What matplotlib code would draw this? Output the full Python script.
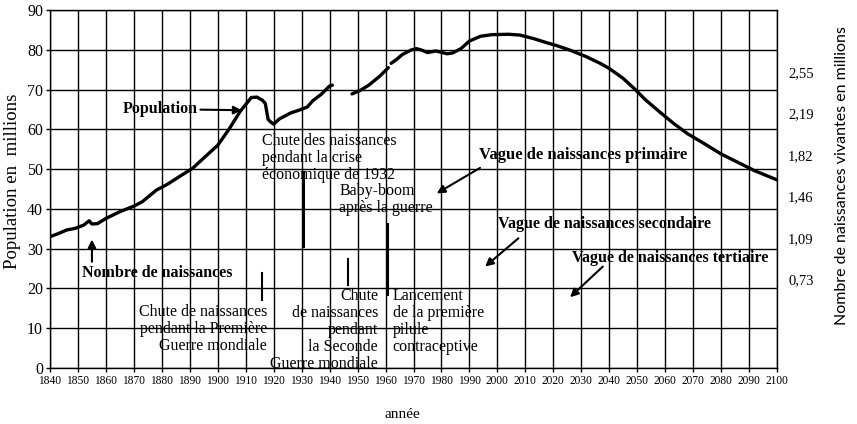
import numpy as np
import matplotlib
matplotlib.use("Agg")
import matplotlib.pyplot as plt

# population of Germany in millions (nan = gap in the curve)
years = [1840, 1843, 1846, 1849, 1852, 1854, 1855, 1857, 1860, 1865, 1870, 1873,
         1878, 1882, 1886, 1891, 1895, 1900, 1904, 1908, 1912, 1914, 1916, 1917,
         1918, 1919, 1920, 1922, 1926, 1929, 1932, 1934, 1937, 1940, 1941,
         1944,
         1948, 1951, 1954, 1958, 1961,
         1961.5,
         1962, 1964, 1966, 1969, 1971, 1973, 1975, 1978, 1982, 1984, 1987, 1990,
         1994, 1998, 2004, 2008, 2013, 2018, 2021, 2026, 2032, 2037, 2040, 2045,
         2049, 2053, 2058, 2063, 2068, 2074, 2080, 2086, 2092, 2100]
population = [33.0, 33.8, 34.7, 35.1, 35.9, 37.0, 36.2, 36.3, 37.6, 39.3, 40.7, 41.8,
              44.7, 46.2, 48.0, 50.2, 52.8, 56.0, 60.0, 64.5, 68.0, 68.1, 67.3, 66.5,
              62.5, 61.8, 61.3, 62.6, 64.1, 64.8, 65.6, 67.2, 68.8, 70.9, 71.1,
              np.nan,
              68.9, 69.8, 71.1, 73.4, 75.5,
              np.nan,
              76.6, 77.6, 78.8, 79.9, 80.3, 79.9, 79.3, 79.7, 79.0, 79.2, 80.3, 82.2,
              83.4, 83.8, 83.9, 83.7, 82.8, 81.7, 81.1, 79.9, 78.2, 76.5, 75.3, 72.8,
              70.2, 67.4, 64.4, 61.5, 58.9, 56.4, 53.8, 51.7, 49.6, 47.3]

x_ticks = list(range(1840, 2101, 10))
y_ticks = list(range(0, 91, 10))

# right axis: live births in millions
births_ticks = [0.73, 1.09, 1.46, 1.82, 2.19, 2.55]
births_labels = ["0,73", "1,09", "1,46", "1,82", "2,19", "2,55"]
births_at_zero = -0.0556
births_at_top = 3.1007

SERIF = "Liberation Serif"
FS = 11.5

fig = plt.figure(figsize=(8.57, 4.24), dpi=100)
ax = fig.add_axes([50 / 857, 56 / 424, 727 / 857, 358 / 424])

ax.plot(years, population, color="black", lw=2.4, solid_capstyle="round")

ax.set_xlim(1840, 2100)
ax.set_ylim(0, 90)
ax.set_xticks(x_ticks)
ax.set_yticks(y_ticks)
ax.set_xticklabels([str(t) for t in x_ticks], fontfamily=SERIF, fontsize=8.3)
ax.set_yticklabels([str(t) for t in y_ticks], fontfamily=SERIF, fontsize=11.5)
ax.tick_params(axis="both", direction="out", length=3, width=1, pad=2, colors="black")
ax.grid(True, color="black", lw=1.0)
for sp in ax.spines.values():
    sp.set_linewidth(1.0)

ax2 = ax.twinx()
ax2.set_ylim(births_at_zero, births_at_top)
ax2.set_yticks(births_ticks)
ax2.set_yticklabels(births_labels, fontfamily=SERIF, fontsize=10.5)
ax2.tick_params(axis="y", length=0, pad=8)
for sp in ax2.spines.values():
    sp.set_visible(False)

fig.text(13 / 857, 1 - 181 / 424, "Population en  millions", rotation=90,
         ha="center", va="center", fontfamily=SERIF, fontsize=13.5)
fig.text(842 / 857, 1 - 176 / 424, "Nombre de naissances vivantes en millions",
         rotation=90, ha="center", va="center", fontfamily="Lato", fontsize=11.5)
fig.text(402 / 857, 1 - 414 / 424, "année", ha="center", va="center",
         fontfamily=SERIF, fontsize=11)

arrow = dict(arrowstyle="-|>", color="black", lw=1.5, mutation_scale=12,
             shrinkA=0, shrinkB=0)
bold = dict(fontfamily=SERIF, fontsize=FS, fontweight="bold")
plain = dict(fontfamily=SERIF, fontsize=FS, linespacing=1.07)

ax.annotate("Population", xy=(1908.6, 64.8), xytext=(1892.8, 65.1),
            ha="right", va="center", arrowprops=arrow, **bold)

ax.text(1878.4, 23.9, "Nombre de naissances", ha="center", va="center", **bold)
ax.annotate("", xy=(1855.0, 32.3), xytext=(1855.0, 26.7), arrowprops=arrow)

ax.text(1993.4, 53.5, "Vague de naissances primaire", ha="left", va="center",
        fontfamily=SERIF, fontsize=12, fontweight="bold")
ax.annotate("", xy=(1978.3, 43.9), xytext=(1993.8, 50.3), arrowprops=arrow)

ax.text(2000.2, 36.2, "Vague de naissances secondaire", ha="left", va="center", **bold)
ax.annotate("", xy=(1995.6, 25.5), xytext=(2007.5, 32.6), arrowprops=arrow)

ax.text(2026.6, 27.6, "Vague de naissances tertiaire", ha="left", va="center", **bold)
ax.annotate("", xy=(2026.0, 17.8), xytext=(2037.7, 25.5), arrowprops=arrow)

ax.text(1917.6, 16.1, "Chute de naissances\npendant la Première\nGuerre mondiale",
        ha="right", va="top", multialignment="right", **plain)
ax.text(1915.8, 59.0, "Chute des naissances\npendant la crise\néconomique de 1932",
        ha="left", va="top", **plain)
ax.text(1943.4, 46.5, "Baby-boom\naprès la guerre", ha="left", va="top", **plain)
ax.text(1957.3, 20.0, "Chute\nde naissances\npendant\nla Seconde\nGuerre mondiale",
        ha="right", va="top", multialignment="right", **plain)
ax.text(1962.6, 20.0, "Lancement\nde la première\npilule\ncontraceptive",
        ha="left", va="top", **plain)

# short leader strokes next to the notes
leaders = [(1915.8, 17.1, 23.9), (1931.0, 30.5, 49.2), (1946.7, 20.9, 27.3),
           (1960.8, 18.3, 36.2)]
for lx, ly0, ly1 in leaders:
    ax.plot([lx, lx], [ly0, ly1], color="black", lw=1.5)

fig.savefig("out.png", dpi=100)
